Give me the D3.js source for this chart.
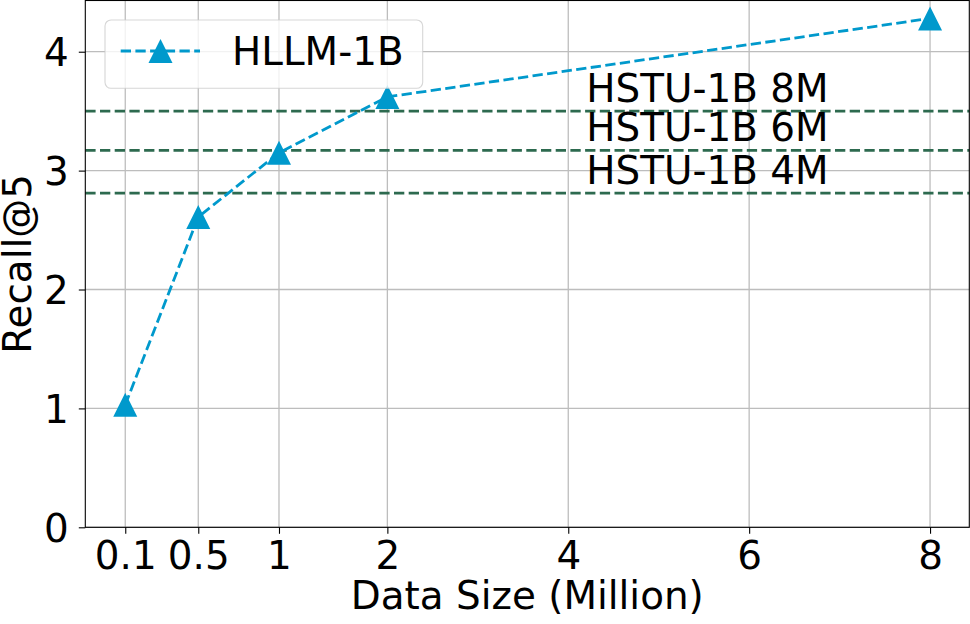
<!DOCTYPE html>
<html>
<head>
<meta charset="utf-8">
<script src="https://cdn.jsdelivr.net/npm/d3@7"></script>
<style>
  html, body { margin: 0; padding: 0; background: #fff; }
  svg { display: block; font-family: "DejaVu Sans", sans-serif; }
</style>
</head>
<body>
<svg id="chart" width="970" height="624"></svg>
<script>
// ---- data ----
const dataSizes = [0.1, 0.5, 1, 2, 8];           // million
const recallHLLM = [1.03, 2.61, 3.15, 3.62, 4.28];
const xTickValues = [0.1, 0.5, 1, 2, 4, 6, 8];
const xTickLabels = ["0.1", "0.5", "1", "2", "4", "6", "8"];
const yTickValues = [0, 1, 2, 3, 4];
const baselineNames = ["HSTU-1B 8M", "HSTU-1B 6M", "HSTU-1B 4M"];
const baselineValues = [3.50, 3.17, 2.81];
const baselineLabelX = 4.2;
const seriesName = "HLLM-1B";

// ---- layout ----
const svg = d3.select("#chart");
const L = 85.3, R = 969.3, T = 0.5, B = 527.3;
const W = R - L;
const FS = 38.9;
const blue = "#0099cc", green = "#2d6a4f";

// piecewise x axis (uneven tick spacing as in the original)
const x = d3.scaleLinear()
  .domain([0.1, 0.5, 1, 2, 8])
  .range([L + 0.0452 * W, L + 0.1278 * W, L + 0.2191 * W, L + 0.3417 * W, L + 0.9556 * W]);
const y = d3.scaleLinear().domain([0, 4.435]).range([B, 0]);

// grid
const grid = svg.append("g");
grid.selectAll("line.gx").data(xTickValues).enter().append("line")
  .attr("x1", d => x(d)).attr("x2", d => x(d)).attr("y1", T).attr("y2", B)
  .attr("stroke", "#bdbdbd").attr("stroke-width", 1.3);
grid.selectAll("line.gy").data(yTickValues).enter().append("line")
  .attr("x1", L).attr("x2", R).attr("y1", d => y(d)).attr("y2", d => y(d))
  .attr("stroke", "#bdbdbd").attr("stroke-width", 1.3);

// baselines
svg.append("g").selectAll("line").data(baselineValues).enter().append("line")
  .attr("x1", L).attr("x2", R).attr("y1", d => y(d)).attr("y2", d => y(d))
  .attr("stroke", green).attr("stroke-width", 2.8)
  .attr("stroke-dasharray", "10.3 4.4");
svg.append("g").selectAll("text").data(baselineValues).enter().append("text")
  .attr("x", x(baselineLabelX)).attr("y", d => y(d) - 9.2)
  .attr("font-size", FS).attr("fill", "#000")
  .text((d, i) => baselineNames[i]);

// series line
const pts = dataSizes.map((d, i) => [d, recallHLLM[i]]);
svg.append("path").datum(pts)
  .attr("d", d3.line().x(d => x(d[0])).y(d => y(d[1])))
  .attr("fill", "none").attr("stroke", blue).attr("stroke-width", 2.8)
  .attr("stroke-dasharray", "10.3 4.4");

const tri = s => `M0,${-s}L${s},${s}L${-s},${s}Z`;
svg.append("g").selectAll("path").data(pts).enter().append("path")
  .attr("d", tri(12))
  .attr("transform", d => `translate(${x(d[0])},${y(d[1])})`)
  .attr("fill", blue);

// spines
svg.append("rect").attr("x", L).attr("y", T).attr("width", W).attr("height", B - T)
  .attr("fill", "none").attr("stroke", "#000").attr("stroke-width", 1.1);

// x axis
const xAxis = d3.axisBottom(x).tickValues(xTickValues)
  .tickFormat((d, i) => xTickLabels[i]).tickSize(6.5).tickPadding(10);
const gx = svg.append("g").attr("transform", `translate(0,${B})`).call(xAxis);
gx.select(".domain").remove();
gx.selectAll("line").attr("stroke", "#000").attr("stroke-width", 1.1);
gx.selectAll("text").attr("font-size", FS).attr("font-family", "DejaVu Sans").attr("fill", "#000")
  .attr("dy", "0.66em");

// y axis
const yAxis = d3.axisLeft(y).tickValues(yTickValues).tickFormat(d3.format("d"))
  .tickSize(6.5).tickPadding(10);
const gy = svg.append("g").attr("transform", `translate(${L},0)`).call(yAxis);
gy.select(".domain").remove();
gy.selectAll("line").attr("stroke", "#000").attr("stroke-width", 1.1);
gy.selectAll("text").attr("font-size", FS).attr("font-family", "DejaVu Sans").attr("fill", "#000")
  .attr("dy", "0.36em");

// axis labels
svg.append("text").attr("x", (L + R) / 2).attr("y", 608.5)
  .attr("text-anchor", "middle").attr("font-size", FS).text("Data Size (Million)");
svg.append("text").attr("transform", `translate(30.5,${(T + B) / 2}) rotate(-90)`)
  .attr("text-anchor", "middle").attr("font-size", FS).text("Recall@5");

// legend
const lg = svg.append("g");
lg.append("rect").attr("x", 105).attr("y", 20).attr("width", 317.7).attr("height", 68.3)
  .attr("rx", 6).attr("fill", "#fff").attr("fill-opacity", 0.8)
  .attr("stroke", "#cccccc").attr("stroke-opacity", 0.8).attr("stroke-width", 1.1);
lg.append("line").attr("x1", 120.7).attr("x2", 200).attr("y1", 51).attr("y2", 51)
  .attr("stroke", blue).attr("stroke-width", 2.8).attr("stroke-dasharray", "10.3 4.4");
lg.append("path").attr("d", tri(12)).attr("transform", "translate(160.5,51)").attr("fill", blue);
lg.append("text").attr("x", 232).attr("y", 65).attr("font-size", FS).text(seriesName);
</script>
</body>
</html>
